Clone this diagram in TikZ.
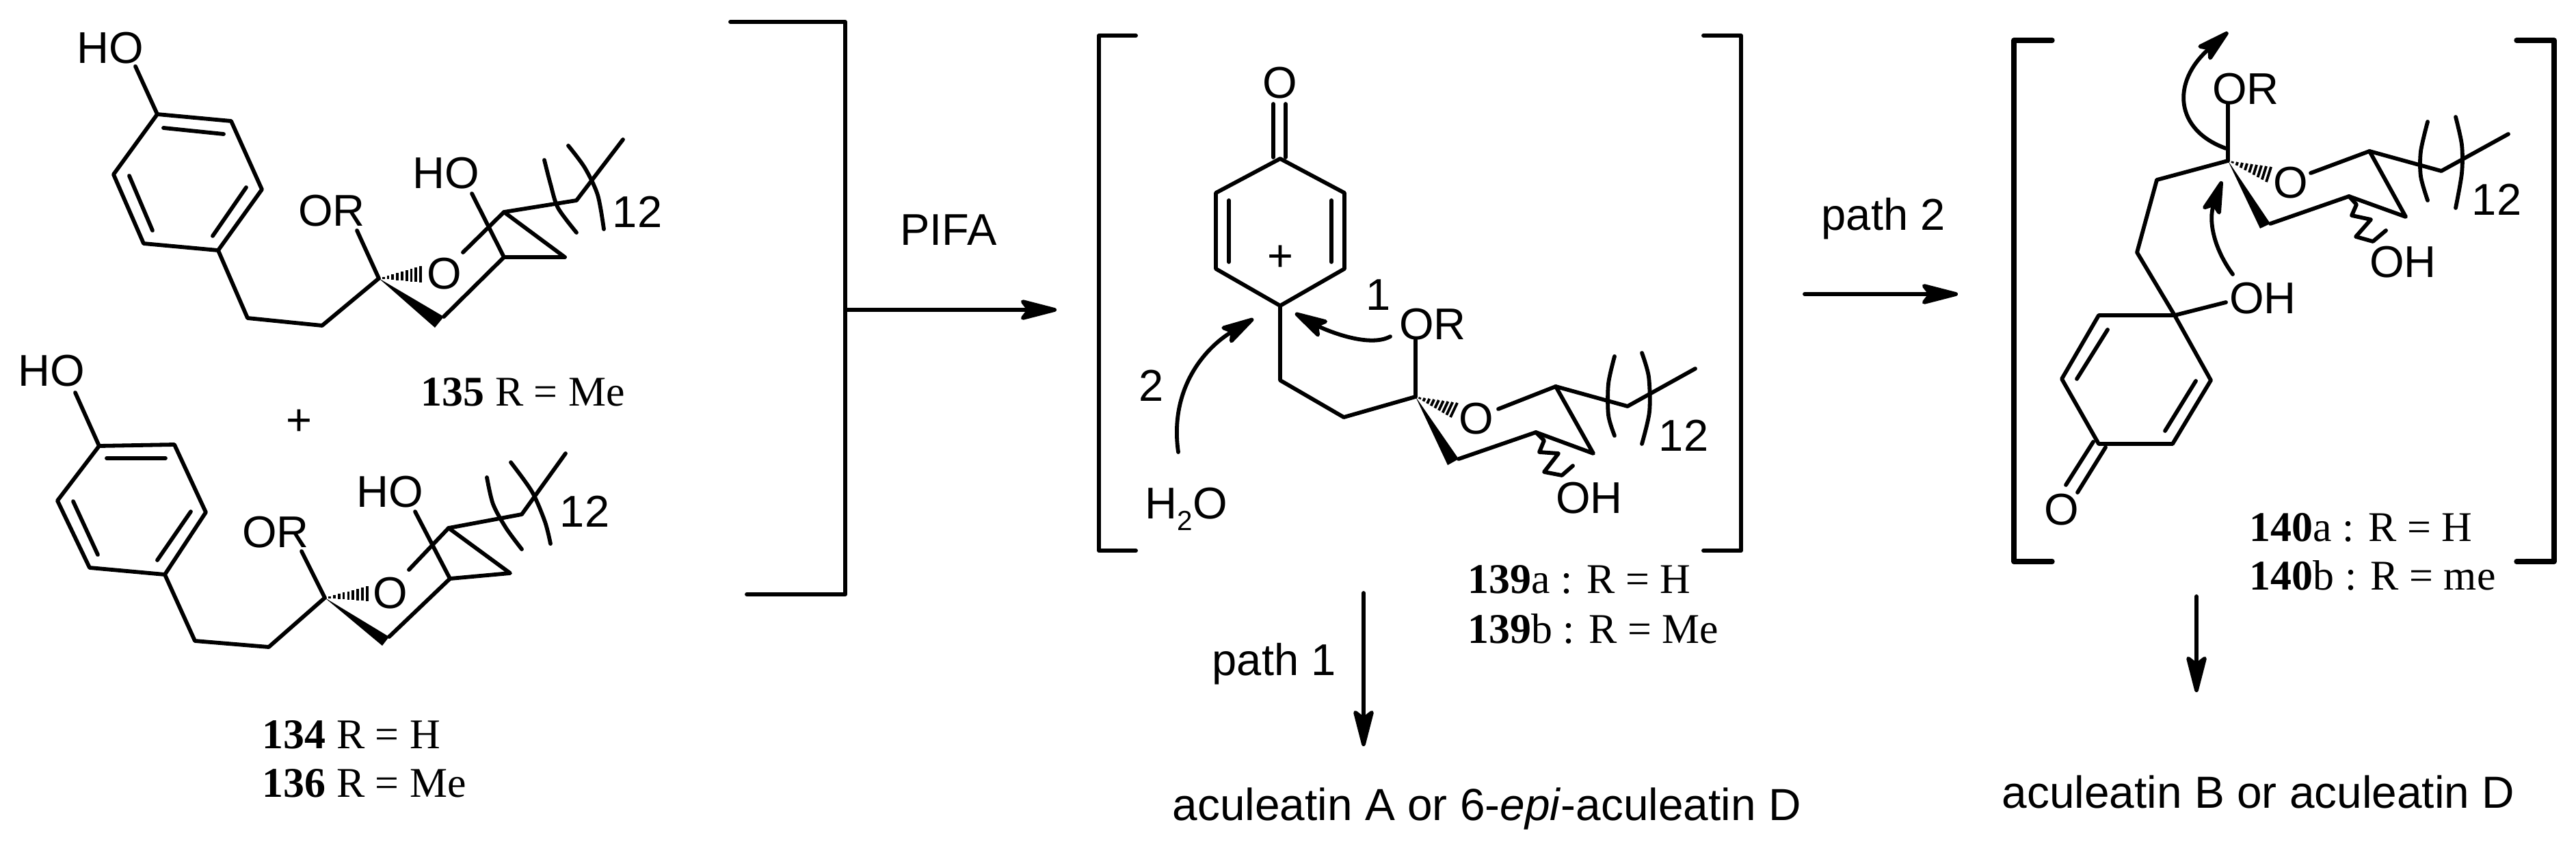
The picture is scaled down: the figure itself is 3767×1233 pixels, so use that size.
\documentclass[tikz,border=0pt]{standalone}
\usepackage{fontspec}
\setmainfont{Liberation Serif}
\newfontfamily\arialfont{Liberation Sans}
\usetikzlibrary{calc,arrows.meta}
\newcommand{\hashbond}[3]{\foreach \t in {1,...,9}{\draw[line width=1.1pt] ($(#1)!\t/9!(#2)$) -- ($(#1)!\t/9!(#3)$);}}
\begin{document}
\begin{tikzpicture}
[x=0.01cm,y=-0.01cm]
\tikzset{bond/.style = {line width=1.65pt,line cap=round,line join=round}}
\tikzset{brak/.style = {bond,line width=1.7pt}}
\tikzset{brakthick/.style = {bond,line width=2.1pt}}
\tikzset{atom/.style = {inner sep=0pt,font=\arialfont\fontsize{18.5}{20}\selectfont}}
\tikzset{tag/.style = {inner sep=0pt,anchor=base west,font=\fontsize{17.6}{20}\selectfont}}
\tikzset{rxn/.style = {bond,-{Stealth[length=18.5pt,width=9.4pt,inset=3.6pt,round]}}}
\tikzset{curly/.style = {bond,-{Stealth[length=17pt,width=9pt,inset=3.4pt,round]}}}
\useasboundingbox (0,0) rectangle (3767,1233);
% 135
  \coordinate (a1) at (230,167); \coordinate (a2) at (338,177); \coordinate (a3) at (383,277);
  \coordinate (a4) at (319,366); \coordinate (a5) at (210,356); \coordinate (a6) at (166,255);
  \coordinate (a1i) at (239,187); \coordinate (a2i) at (327,196);
  \coordinate (a3i) at (360,274); \coordinate (a4i) at (311,345);
  \coordinate (a5i) at (223,337); \coordinate (a6i) at (189,257);
  \coordinate (a7) at (362,465); \coordinate (a8) at (471,476); \coordinate (a9) at (554,407);
  \coordinate (aw1) at (649,463); \coordinate (aw2) at (636,479);
  \coordinate (ah1) at (615,389); \coordinate (ah2) at (615,413);
  \coordinate (a10) at (737,376); \coordinate (a11) at (826,376); \coordinate (a12) at (737,310);
  \coordinate (a13) at (843,293); \coordinate (a14) at (911,204);
  \coordinate (aho) at (198,97); \coordinate (aor) at (522,337);
  \coordinate (aoe) at (677,369); \coordinate (aoh) at (690,283);
  \node[atom] (HOa) at (161,70){HO};
  \node[atom] (ORa) at (485,308){OR};
  \node[atom] (Oa) at (650,400){O};
  \node[atom] (HOb) at (652,253){HO};
  \node[atom] (na) at (932,310){12};
  \node[tag] (la) at (615,593){\textbf{135} R = Me};
  \node[atom] (plus) at (437,618){+};
  \draw[bond] (a1) -- (a2) -- (a3) -- (a4) -- (a5) -- (a6) -- cycle;
  \draw[bond] (a1i) -- (a2i);
  \draw[bond] (a3i) -- (a4i);
  \draw[bond] (a5i) -- (a6i);
  \draw[bond] (a1) -- (aho);
  \draw[bond] (a4) -- (a7) -- (a8) -- (a9) -- (aor);
  \fill (a9) -- (aw1) -- (aw2) -- cycle;
  \hashbond{a9}{ah1}{ah2}
  \draw[bond] (aw1) -- (a10) -- (a11) -- (a12) -- (aoe);
  \draw[bond] (a10) -- (aoh);
  \draw[bond] (a12) -- (a13) -- (a14);
  \draw[bond] plot[smooth] coordinates {(796,234) (805,269) (816,304) (843,340)};
  \draw[bond] plot[smooth] coordinates {(831,213) (855,245) (874,285) (883,335)};
% 134 and 136
  \coordinate (b1) at (145,652); \coordinate (b2) at (255,650); \coordinate (b3) at (301,749);
  \coordinate (b4) at (241,840); \coordinate (b5) at (131,830); \coordinate (b6) at (84,732);
  \coordinate (b1i) at (156,670); \coordinate (b2i) at (242,670);
  \coordinate (b3i) at (279,748); \coordinate (b4i) at (230,819);
  \coordinate (b5i) at (143,811); \coordinate (b6i) at (107,733);
  \coordinate (b7) at (285,937); \coordinate (b8) at (393,946); \coordinate (b9) at (475,874);
  \coordinate (bw1) at (569,931); \coordinate (bw2) at (559,944);
  \coordinate (bh1) at (537,857); \coordinate (bh2) at (537,879);
  \coordinate (b10) at (658,846); \coordinate (b11) at (746,838); \coordinate (b12) at (656,772);
  \coordinate (b13) at (763,752); \coordinate (b14) at (827,663);
  \coordinate (bho) at (110,574); \coordinate (bor) at (441,806);
  \coordinate (boe) at (598,833); \coordinate (boh) at (607,748);
  \node[atom] (HOc) at (75,542){HO};
  \node[atom] (ORb) at (403,778){OR};
  \node[atom] (Ob) at (571,867){O};
  \node[atom] (HOd) at (570,719){HO};
  \node[atom] (nb) at (855,748){12};
  \node[tag] (lb) at (383,1094){\textbf{134} R = H};
  \node[tag] (lc) at (383,1165){\textbf{136} R = Me};
  \draw[bond] (b1) -- (b2) -- (b3) -- (b4) -- (b5) -- (b6) -- cycle;
  \draw[bond] (b1i) -- (b2i);
  \draw[bond] (b3i) -- (b4i);
  \draw[bond] (b5i) -- (b6i);
  \draw[bond] (b1) -- (bho);
  \draw[bond] (b4) -- (b7) -- (b8) -- (b9) -- (bor);
  \fill (b9) -- (bw1) -- (bw2) -- cycle;
  \hashbond{b9}{bh1}{bh2}
  \draw[bond] (bw1) -- (b10) -- (b11) -- (b12) -- (boe);
  \draw[bond] (b10) -- (boh);
  \draw[bond] (b12) -- (b13) -- (b14);
  \draw[bond] plot[smooth] coordinates {(712,698) (721,737) (740,772) (763,803)};
  \draw[bond] plot[smooth] coordinates {(747,676) (778,719) (797,763) (805,795)};
% first step
  \coordinate (k1) at (1068,32); \coordinate (k2) at (1236,32);
  \coordinate (k3) at (1236,869); \coordinate (k4) at (1092,869);
  \coordinate (k5) at (1236,453); \coordinate (k6) at (1545,453);
  \node[atom] (pifa) at (1387,336){PIFA};
  \draw[bond] (k1) -- (k2) -- (k3) -- (k4);
  \draw[rxn] (k5) -- (k6);
% 139
  \coordinate (c1) at (1872,232); \coordinate (c2) at (1966,282); \coordinate (c3) at (1966,393);
  \coordinate (c4) at (1872,447); \coordinate (c5) at (1778,393); \coordinate (c6) at (1778,282);
  \coordinate (c2i) at (1947,293); \coordinate (c3i) at (1947,383);
  \coordinate (c5i) at (1797,383); \coordinate (c6i) at (1797,293);
  \coordinate (co1) at (1862,152); \coordinate (co2) at (1862,230);
  \coordinate (co3) at (1880,152); \coordinate (co4) at (1880,230);
  \coordinate (c7) at (1872,556); \coordinate (c8) at (1965,610); \coordinate (c9) at (2070,580);
  \coordinate (cor) at (2070,497);
  \coordinate (cw1) at (2133,671); \coordinate (cw2) at (2117,680);
  \coordinate (ch1) at (2131,589); \coordinate (ch2) at (2121,610);
  \coordinate (c10) at (2246,632); \coordinate (c11) at (2330,663); \coordinate (c12) at (2275,565);
  \coordinate (coe) at (2191,598);
  \coordinate (c13) at (2380,594); \coordinate (c14) at (2479,539);
  \coordinate (cs1) at (2033,492); \coordinate (cs2) at (1894,458);
  \coordinate (cs3) at (1723,661); \coordinate (cs4) at (1833,466);
  \coordinate (cb1) at (1661,52); \coordinate (cb2) at (1607,52);
  \coordinate (cb3) at (1607,805); \coordinate (cb4) at (1661,805);
  \coordinate (cb5) at (2491,52); \coordinate (cb6) at (2546,52);
  \coordinate (cb7) at (2546,805); \coordinate (cb8) at (2491,805);
  \node[atom] (Oc) at (1872,121){O};
  \node[atom] (plusc) at (1872,378){+};
  \node[atom] (ORc) at (2095,474){OR};
  \node[atom] (one) at (2016,431){1};
  \node[atom] (two) at (1684,564){2};
  \node[atom,anchor=base west] (wat) at (1674,758){H\raisebox{-5pt}{\fontsize{11.5}{12}\selectfont 2}O};
  \node[atom] (Od) at (2159,612){O};
  \node[atom] (nc) at (2462,637){12};
  \node[atom] (OHc) at (2324,728){OH};
  \node[tag] (ld) at (2146,867){\textbf{139}a : R = H};
  \node[tag] (le) at (2146,940){\textbf{139}b : R = Me};
  \draw[bond] (c1) -- (c2) -- (c3) -- (c4) -- (c5) -- (c6) -- cycle;
  \draw[bond] (c2i) -- (c3i);
  \draw[bond] (c5i) -- (c6i);
  \draw[bond] (co1) -- (co2);
  \draw[bond] (co3) -- (co4);
  \draw[bond] (c4) -- (c7) -- (c8) -- (c9) -- (cor);
  \fill (c9) -- (cw1) -- (cw2) -- cycle;
  \hashbond{c9}{ch1}{ch2}
  \draw[bond] (cw1) -- (c10) -- (c11) -- (c12) -- (coe);
  \draw[bond] (c12) -- (c13) -- (c14);
  \draw[bond] plot[smooth] coordinates {(2361,521) (2352,561) (2352,607) (2361,637)};
  \draw[bond] plot[smooth] coordinates {(2401,516) (2411,551) (2412,602) (2401,649)};
  \draw[bond] (c10) -- (2258,644) -- (2251,661) -- (2279,663) -- (2258,690) -- (2284,695) -- (2300,681);
  \draw[curly] (cs1) .. controls (2000,510) and (1933,480) .. (cs2);
  \draw[curly] (cs3) .. controls (1710,570) and (1760,510) .. (cs4);
  \draw[brak] (cb1) -- (cb2) -- (cb3) -- (cb4);
  \draw[brak] (cb5) -- (cb6) -- (cb7) -- (cb8);
% path 1
  \coordinate (p1) at (1994,867); \coordinate (p2) at (1994,1091);
  \node[atom,anchor=base west] (pone) at (1772,987){path 1};
  \node[atom,anchor=base west,font=\arialfont\fontsize{18.7}{20}\selectfont] (prodA) at (1714,1199){aculeatin A or 6-\textit{epi}-aculeatin D};
  \draw[rxn] (p1) -- (p2);
% path 2
  \coordinate (q1) at (2639,430); \coordinate (q2) at (2863,430);
  \node[atom,anchor=base west] (ptwo) at (2663,336){path 2};
  \draw[rxn] (q1) -- (q2);
% 140
  \coordinate (d1) at (3180,461); \coordinate (d2) at (3069,461); \coordinate (d3) at (3015,554);
  \coordinate (d4) at (3069,649); \coordinate (d5) at (3177,649); \coordinate (d6) at (3233,556);
  \coordinate (d2i) at (3082,482); \coordinate (d3i) at (3037,554);
  \coordinate (d5i) at (3166,630); \coordinate (d6i) at (3211,557);
  \coordinate (do1) at (3061,646); \coordinate (do2) at (3021,709);
  \coordinate (do3) at (3079,654); \coordinate (do4) at (3038,720);
  \coordinate (d7) at (3125,369); \coordinate (d8) at (3154,263); \coordinate (d9) at (3258,235);
  \coordinate (dor) at (3258,152); \coordinate (doh) at (3255,442);
  \coordinate (dw1) at (3320,327); \coordinate (dw2) at (3305,334);
  \coordinate (dh1) at (3321,244); \coordinate (dh2) at (3314,266);
  \coordinate (d10) at (3435,287); \coordinate (d11) at (3518,317); \coordinate (d12) at (3465,221);
  \coordinate (doe) at (3379,253);
  \coordinate (d13) at (3570,250); \coordinate (d14) at (3668,196);
  \coordinate (ds1) at (3255,217); \coordinate (ds2) at (3258,47);
  \coordinate (ds3) at (3265,401); \coordinate (ds4) at (3249,265);
  \coordinate (db1) at (3001,59); \coordinate (db2) at (2945,59);
  \coordinate (db3) at (2945,821); \coordinate (db4) at (3001,821);
  \coordinate (db5) at (3680,59); \coordinate (db6) at (3735,59);
  \coordinate (db7) at (3735,821); \coordinate (db8) at (3680,821);
  \node[atom] (ORd) at (3284,130){OR};
  \node[atom] (Oe) at (3350,267){O};
  \node[atom] (nd) at (3651,292){12};
  \node[atom] (OHd) at (3514,383){OH};
  \node[atom] (OHe) at (3309,436){OH};
  \node[atom] (Of) at (3015,745){O};
  \node[tag] (lf) at (3289,791){\textbf{140}a : R = H};
  \node[tag] (lg) at (3289,862){\textbf{140}b : R = me};
  \draw[bond] (d1) -- (d2) -- (d3) -- (d4) -- (d5) -- (d6) -- cycle;
  \draw[bond] (d2i) -- (d3i);
  \draw[bond] (d5i) -- (d6i);
  \draw[bond] (do1) -- (do2);
  \draw[bond] (do3) -- (do4);
  \draw[bond] (d1) -- (d7) -- (d8) -- (d9) -- (dor);
  \draw[bond] (d1) -- (doh);
  \fill (d9) -- (dw1) -- (dw2) -- cycle;
  \hashbond{d9}{dh1}{dh2}
  \draw[bond] (dw1) -- (d10) -- (d11) -- (d12) -- (doe);
  \draw[bond] (d12) -- (d13) -- (d14);
  \draw[bond] plot[smooth] coordinates {(3550,178) (3540,221) (3540,258) (3550,293)};
  \draw[bond] plot[smooth] coordinates {(3591,171) (3600,212) (3600,253) (3591,304)};
  \draw[bond] (d10) -- (3446,299) -- (3439,315) -- (3467,321) -- (3445,346) -- (3470,353) -- (3489,337);
  \draw[curly] (ds1) .. controls (3180,190) and (3175,120) .. (ds2);
  \draw[curly] (ds3) .. controls (3235,360) and (3230,320) .. (ds4);
  \draw[brakthick] (db1) -- (db2) -- (db3) -- (db4);
  \draw[brakthick] (db5) -- (db6) -- (db7) -- (db8);
% last step
  \coordinate (r1) at (3212,872); \coordinate (r2) at (3212,1012);
  \node[atom,anchor=base west,font=\arialfont\fontsize{18.7}{20}\selectfont] (prodB) at (2927,1181){aculeatin B or aculeatin D};
  \draw[rxn] (r1) -- (r2);
\end{tikzpicture}
\end{document}
